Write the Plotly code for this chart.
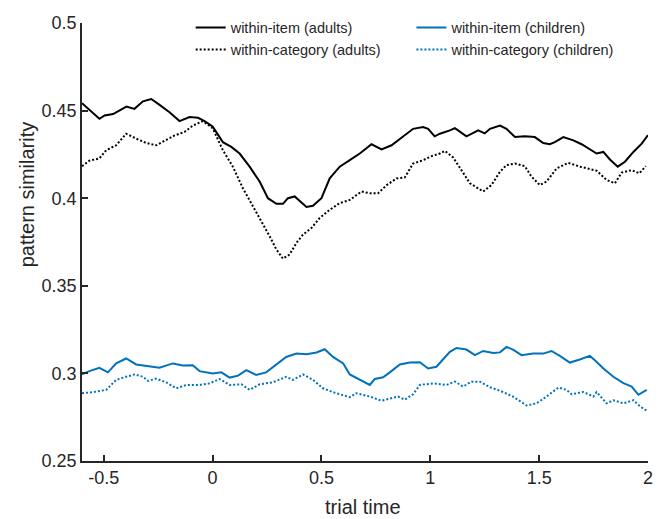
import plotly.graph_objects as go

# ---------------- data ----------------
adult_item_t = [-0.6, -0.52, -0.496, -0.457, -0.396, -0.359, -0.32, -0.282, -0.25, -0.198, -0.152, -0.106,
                -0.067, -0.037, 0.0, 0.02, 0.047, 0.086, 0.124, 0.17, 0.216, 0.254, 0.293, 0.323, 0.346,
                0.377, 0.4, 0.431, 0.461, 0.5, 0.538, 0.584, 0.63, 0.676, 0.73, 0.776, 0.822, 0.875, 0.921,
                0.967, 0.99, 1.02, 1.044, 1.09, 1.113, 1.166, 1.22, 1.25, 1.274, 1.32, 1.35, 1.389, 1.434,
                1.48, 1.519, 1.549, 1.572, 1.611, 1.657, 1.695, 1.733, 1.764, 1.795, 1.825, 1.861, 1.894,
                1.933, 1.971, 2.0]
adult_item_v = [0.4542, 0.4453, 0.4472, 0.448, 0.4523, 0.451, 0.4553, 0.4566, 0.4538, 0.4491, 0.444, 0.4463,
                0.4459, 0.444, 0.441, 0.437, 0.432, 0.4293, 0.4255, 0.418, 0.4095, 0.400, 0.3968, 0.3968, 0.400,
                0.401, 0.3982, 0.395, 0.3957, 0.400, 0.4113, 0.418, 0.4217, 0.4255, 0.4308, 0.4278, 0.4302, 0.4353,
                0.4396, 0.4406, 0.4396, 0.4353, 0.4368, 0.4387, 0.440, 0.4353, 0.4387, 0.437, 0.4396, 0.4415,
                0.4396, 0.4349, 0.4353, 0.4349, 0.4315, 0.4308, 0.432, 0.4349, 0.433, 0.4308, 0.4278, 0.4255,
                0.4264, 0.4221, 0.418, 0.4208, 0.4264, 0.4311, 0.436]

adult_cat_t = [-0.6, -0.566, -0.52, -0.489, -0.443, -0.397, -0.351, -0.305, -0.259, -0.213, -0.175, -0.129,
               -0.09, -0.045, 0.0, 0.047, 0.093, 0.139, 0.178, 0.213, 0.262, 0.293, 0.323, 0.354, 0.385, 0.415,
               0.454, 0.492, 0.538, 0.584, 0.63, 0.684, 0.722, 0.76, 0.8, 0.845, 0.883, 0.921, 0.967, 1.006,
               1.044, 1.067, 1.105, 1.143, 1.182, 1.243, 1.281, 1.32, 1.35, 1.389, 1.434, 1.465, 1.503, 1.534,
               1.58, 1.634, 1.687, 1.764, 1.81, 1.848, 1.879, 1.925, 1.96, 1.99]
adult_cat_v = [0.4183, 0.4214, 0.4227, 0.4274, 0.4302, 0.4368, 0.434, 0.4315, 0.4302, 0.4334, 0.4358, 0.4378,
               0.4415, 0.444, 0.440, 0.4274, 0.418, 0.4057, 0.3972, 0.3896, 0.3783, 0.3707, 0.3655, 0.3679,
               0.3745, 0.3792, 0.383, 0.3887, 0.3934, 0.3972, 0.399, 0.4038, 0.4028, 0.4028, 0.4075, 0.4113,
               0.4119, 0.4198, 0.4217, 0.424, 0.4255, 0.427, 0.4232, 0.416, 0.4085, 0.4038, 0.4075, 0.4151,
               0.4189, 0.4198, 0.4183, 0.4123, 0.4075, 0.4095, 0.417, 0.4202, 0.418, 0.4157, 0.4104, 0.4085,
               0.4146, 0.416, 0.4142, 0.4183]

child_item_t = [-0.6, -0.566, -0.52, -0.481, -0.443, -0.397, -0.351, -0.29, -0.244, -0.183, -0.137, -0.091,
                -0.06, 0.0, 0.04, 0.078, 0.117, 0.155, 0.2, 0.246, 0.293, 0.338, 0.385, 0.431, 0.477, 0.515,
                0.553, 0.6, 0.63, 0.676, 0.722, 0.745, 0.783, 0.814, 0.86, 0.906, 0.952, 0.99, 1.028, 1.059,
                1.09, 1.12, 1.166, 1.205, 1.243, 1.289, 1.32, 1.35, 1.38, 1.419, 1.473, 1.519, 1.557, 1.595,
                1.641, 1.687, 1.733, 1.756, 1.795, 1.841, 1.887, 1.925, 1.956, 1.994]
child_item_v = [0.2994, 0.3013, 0.3032, 0.3006, 0.3057, 0.3085, 0.3051, 0.3038, 0.3032, 0.3057, 0.3045, 0.3047,
                0.3013, 0.300, 0.3006, 0.2976, 0.2987, 0.3019, 0.2991, 0.3006, 0.3051, 0.3094, 0.3113, 0.311,
                0.3119, 0.3138, 0.3094, 0.3057, 0.2994, 0.2963, 0.2934, 0.2968, 0.2978, 0.3006, 0.3051, 0.3062,
                0.3064, 0.3028, 0.3038, 0.3081, 0.3123, 0.3145, 0.3136, 0.3104, 0.3128, 0.3117, 0.312, 0.3151,
                0.3136, 0.3104, 0.3113, 0.3113, 0.3128, 0.310, 0.3062, 0.3079, 0.310, 0.3075, 0.3028, 0.2981,
                0.2944, 0.2925, 0.2878, 0.2906]

child_cat_t = [-0.6, -0.55, -0.489, -0.443, -0.397, -0.359, -0.32, -0.297, -0.259, -0.213, -0.167, -0.121,
               -0.06, -0.014, 0.032, 0.078, 0.132, 0.17, 0.216, 0.277, 0.338, 0.369, 0.415, 0.461, 0.507,
               0.553, 0.63, 0.66, 0.722, 0.776, 0.852, 0.883, 0.921, 0.952, 1.013, 1.074, 1.113, 1.151, 1.189,
               1.228, 1.274, 1.32, 1.38, 1.442, 1.488, 1.534, 1.588, 1.626, 1.649, 1.703, 1.749, 1.764, 1.81,
               1.841, 1.887, 1.933, 1.963, 1.994]
child_cat_v = [0.2887, 0.2893, 0.2906, 0.2963, 0.2981, 0.2994, 0.2981, 0.2957, 0.297, 0.2949, 0.2915, 0.2934,
               0.2934, 0.2943, 0.2968, 0.2934, 0.2938, 0.2906, 0.2938, 0.2949, 0.2981, 0.2963, 0.2994, 0.2963,
               0.2915, 0.2893, 0.2864, 0.2887, 0.2868, 0.2844, 0.2868, 0.285, 0.2881, 0.2934, 0.2943, 0.2934,
               0.2953, 0.2925, 0.2953, 0.2953, 0.2921, 0.2901, 0.2868, 0.2817, 0.2829, 0.2868, 0.2919, 0.2906,
               0.2881, 0.2894, 0.2868, 0.2893, 0.2829, 0.2847, 0.2829, 0.2847, 0.2812, 0.2787]

x_ticks = [-0.5, 0, 0.5, 1, 1.5, 2]
x_ticktext = ["-0.5", "0", "0.5", "1", "1.5", "2"]
y_ticks = [0.25, 0.3, 0.35, 0.4, 0.45, 0.5]
y_ticktext = ["0.25", "0.3", "0.35", "0.4", "0.45", "0.5"]

names = ["within-item (adults)", "within-category (adults)",
         "within-item (children)", "within-category (children)"]

# ---------------- figure ----------------
BLACK = "#000000"
BLUE = "#0072BD"
AX = "#262626"
FONT = "Liberation Sans, Arial, sans-serif"

fig = go.Figure()
fig.add_trace(go.Scatter(x=adult_item_t, y=adult_item_v, mode="lines", name=names[0], legend="legend",
                         line=dict(color=BLACK, width=2)))
fig.add_trace(go.Scatter(x=adult_cat_t, y=adult_cat_v, mode="lines", name=names[1], legend="legend",
                         line=dict(color=BLACK, width=2, dash="2px,2px")))
fig.add_trace(go.Scatter(x=child_item_t, y=child_item_v, mode="lines", name=names[2], legend="legend2",
                         line=dict(color=BLUE, width=2)))
fig.add_trace(go.Scatter(x=child_cat_t, y=child_cat_v, mode="lines", name=names[3], legend="legend2",
                         line=dict(color=BLUE, width=2, dash="2px,2px")))

leg_common = dict(orientation="v", y=1.026, xanchor="left", yanchor="top", itemwidth=30,
                  font=dict(size=14.5, color=AX, family=FONT),
                  bgcolor="rgba(0,0,0,0)", traceorder="normal", tracegroupgap=0)

fig.update_layout(
    width=666, height=519,
    margin=dict(l=82, r=18, t=18, b=58),
    paper_bgcolor="white", plot_bgcolor="white",
    font=dict(family=FONT, color=AX),
    showlegend=True,
    legend=dict(x=0.192, **leg_common),
    legend2=dict(x=0.582, **leg_common),
    xaxis=dict(range=[-0.6, 2], tickvals=x_ticks, ticktext=x_ticktext,
               showgrid=False, zeroline=False, showline=True, linecolor=AX, linewidth=1.5,
               ticks="inside", ticklen=6, tickwidth=1.5, tickcolor=AX,
               tickfont=dict(size=18, color=AX, family=FONT), fixedrange=True),
    yaxis=dict(range=[0.25, 0.5], tickvals=y_ticks, ticktext=y_ticktext,
               showgrid=False, zeroline=False, showline=True, linecolor=AX, linewidth=1.5,
               ticks="inside", ticklen=6, tickwidth=1.5, tickcolor=AX,
               tickfont=dict(size=18, color=AX, family=FONT), fixedrange=True),
    annotations=[
        dict(text="trial time", xref="paper", yref="paper", x=0.4965, y=-0.104,
             xanchor="center", yanchor="middle", showarrow=False,
             font=dict(size=20, color=AX, family=FONT)),
        dict(text="pattern similarity", xref="paper", yref="paper", x=-0.097, y=0.609,
             xanchor="center", yanchor="middle", textangle=-90, showarrow=False,
             font=dict(size=20, color=AX, family=FONT)),
    ],
)

fig.write_html("out.html")
